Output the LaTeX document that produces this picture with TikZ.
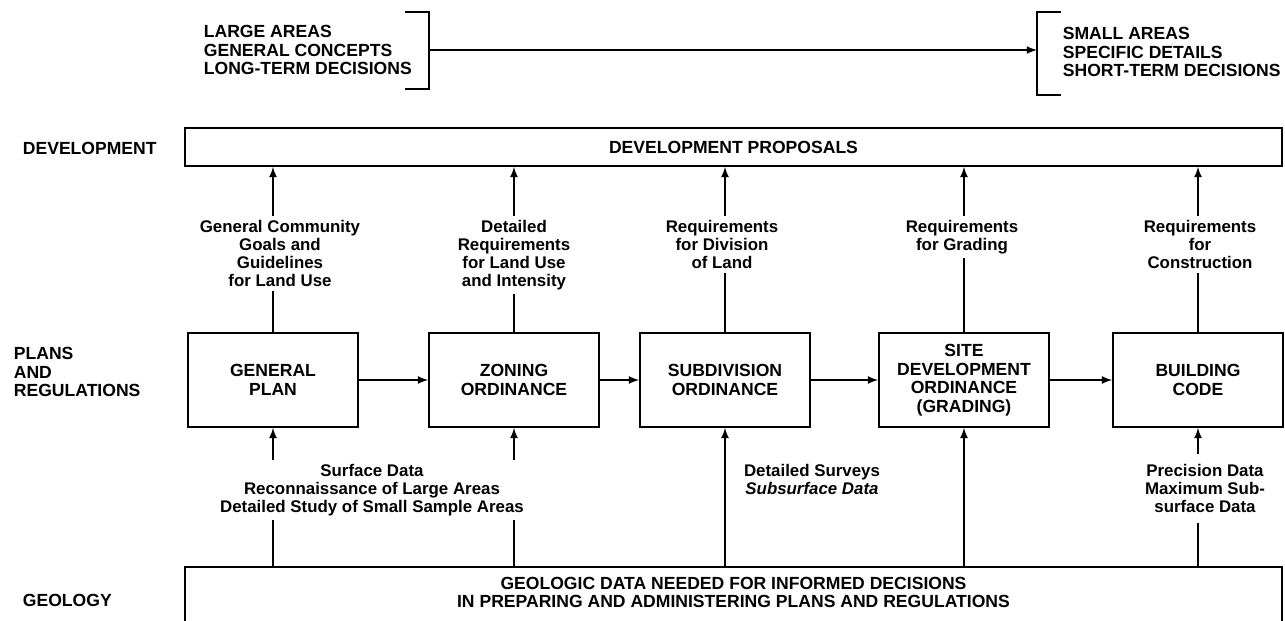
\documentclass[tikz,border=0pt]{standalone}
\usepackage{fontspec}
\setmainfont{Liberation Sans}
\usepackage{tikz}
\usetikzlibrary{positioning}
\tikzset{>=latex}

\begin{document}
\begin{tikzpicture}[x=0.02cm, y=-0.02cm, line width=1pt,
    caps/.style={font=\fontsize{10}{10.6}\selectfont\bfseries, align=left, inner sep=0pt},
    box/.style={draw, caps, align=center, minimum width=3.4cm, minimum height=1.88cm},
    band/.style={draw, caps, align=center, minimum width=21.94cm},
    note/.style={fill=white, font=\fontsize{9.6}{10.2}\selectfont\bfseries, align=center, inner sep=2.5pt}]
    \useasboundingbox (0,0) rectangle (1285,620);
    \clip (0,0) rectangle (1285,620);

    \node[caps, anchor=west] (large) at (203,50) {LARGE AREAS\\GENERAL CONCEPTS\\LONG-TERM DECISIONS};
    \node[caps, anchor=west] (small) at (1062,52) {SMALL AREAS\\SPECIFIC DETAILS\\SHORT-TERM DECISIONS};
    \coordinate (lb) at (429,50);
    \coordinate (rb) at (1037,50);
    \draw (405,12) -- (429,12) -- (429,89) -- (405,89);
    \draw (1061,12) -- (1037,12) -- (1037,95) -- (1061,95);
    \draw[->] (lb) -- (rb);

    \node[caps, anchor=west] (devlab) at (22,148) {DEVELOPMENT};
    \node[caps, anchor=west] (planlab) at (13,372) {PLANS\\AND\\REGULATIONS};
    \node[caps, anchor=west] (geolab) at (22,600) {GEOLOGY};

    \node[band, minimum height=0.76cm] (dev) at (733.5,147) {DEVELOPMENT PROPOSALS};
    \node[band, minimum height=1.4cm, anchor=north] (geo) at (733.5,566) {};
    \node[caps, align=center, below=2mm of geo.north] (geotext)
        {GEOLOGIC DATA NEEDED FOR INFORMED DECISIONS\\IN PREPARING AND ADMINISTERING PLANS AND REGULATIONS};

    \foreach \n/\x/\t in {gp/273/{GENERAL\\PLAN}, zo/514/{ZONING\\ORDINANCE},
            su/725/{SUBDIVISION\\ORDINANCE}, si/964/{SITE\\DEVELOPMENT\\ORDINANCE\\(GRADING)},
            bc/1198/{BUILDING\\CODE}}
        \node[box] (\n) at (\x,380) {\t};

    \foreach \a/\b in {gp/zo,zo/su,su/si,si/bc}
        \draw[->] (\a) -- (\b);
    \foreach \n in {gp,zo,su,si,bc} {
        \draw[->] (\n.north) -- (\n.north |- dev.south);
        \draw[->] (\n.south |- geo.north) -- (\n.south);
    }

    \node[note, anchor=north] (gpneed) at (280,215) {General Community\\Goals and\\Guidelines\\for Land Use};
    \node[note, anchor=north] (zoneed) at (514,215) {Detailed\\Requirements\\for Land Use\\and Intensity};
    \node[note, anchor=north] (suneed) at (722,215) {Requirements\\for Division\\of Land};
    \node[note, anchor=north] (sineed) at (962,215) {Requirements\\for Grading};
    \node[note, anchor=north] (bcneed) at (1200,215) {Requirements\\for\\Construction};

    \node[note, anchor=north] (surface) at (372,459) {Surface Data\\Reconnaissance of Large Areas\\Detailed Study of Small Sample Areas};
    \node[note, anchor=north] (surveys) at (812,459) {Detailed Surveys\\\textit{Subsurface Data}};
    \node[note, anchor=north, inner ysep=6pt] (precise) at (1205,453) {Precision Data\\Maximum Sub-\\surface Data};
\end{tikzpicture}
\end{document}
